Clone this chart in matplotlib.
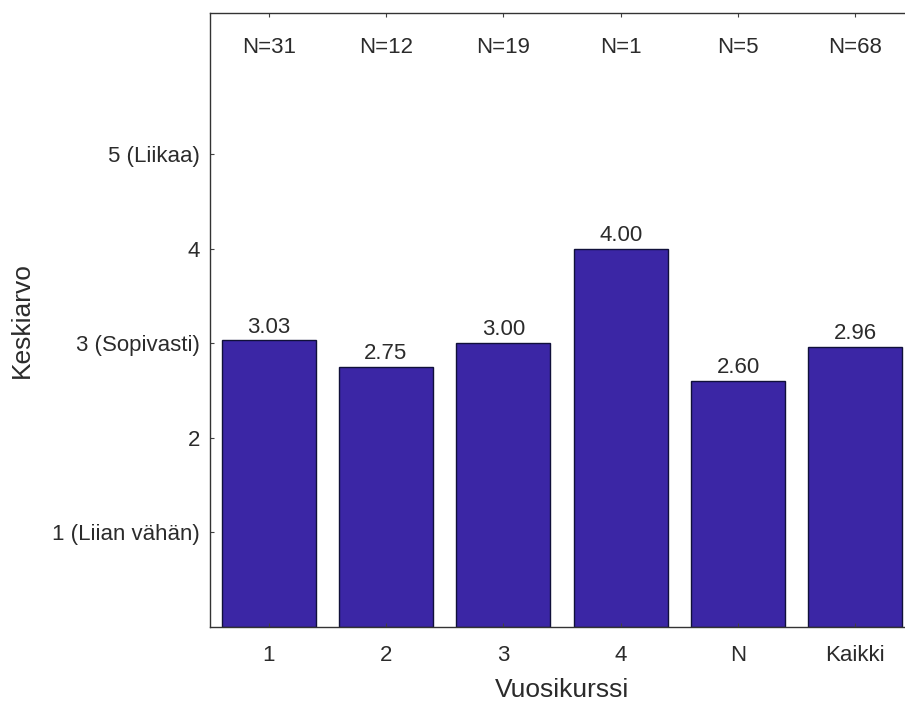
import matplotlib.pyplot as plt
import numpy as np

plt.rcParams['font.family'] = ['Liberation Sans', 'DejaVu Sans']

ryhmat = ['1', '2', '3', '4', 'N', 'Kaikki']
keskiarvot = [3.03, 2.75, 3.00, 4.00, 2.60, 2.96]
vastaajat = [31, 12, 19, 1, 5, 68]
ytikit = [1, 2, 3, 4, 5]
ytikki_nimet = ['1 (Liian vähän)', '2', '3 (Sopivasti)', '4', '5 (Liikaa)']

vari = '#3b26a5'
teksti = '#2b2b2b'

fig = plt.figure(figsize=(9.05, 7.02), dpi=100)
ax = fig.add_axes([0.232, 0.1075, 0.778, 0.8745])

x = np.arange(len(ryhmat))
palkit = ax.bar(x, keskiarvot, width=0.8, color=vari, edgecolor='#10103a', linewidth=1.0)

for xi, k in zip(x, keskiarvot):
    ax.text(xi, k + 0.03, f'{k:.2f}', ha='center', va='bottom', fontsize=16, color=teksti)

for xi, n in zip(x, vastaajat):
    ax.text(xi, 6.13, f'N={n}', ha='center', va='center', fontsize=16, color=teksti)

ax.set_xlim(-0.5, len(ryhmat) - 0.5)
ax.set_ylim(0, 6.5)
ax.set_xticks(x)
ax.set_xticklabels(ryhmat)
ax.set_yticks(ytikit)
ax.set_yticklabels(ytikki_nimet)

ax.tick_params(direction='in', length=3, width=0.8, colors='#404040', labelcolor=teksti,
               labelsize=16, top=True, right=True)
ax.tick_params(axis='x', pad=13)
ax.tick_params(axis='y', pad=7)

for s in ax.spines.values():
    s.set_color('#333333')
    s.set_linewidth(1.0)

ax.set_xlabel('Vuosikurssi', fontsize=19, color=teksti, labelpad=9)
ax.set_ylabel('Keskiarvo', fontsize=19, color=teksti)
ax.yaxis.set_label_coords(-0.25, 0.5)

fig.savefig('out.png', dpi=100)
